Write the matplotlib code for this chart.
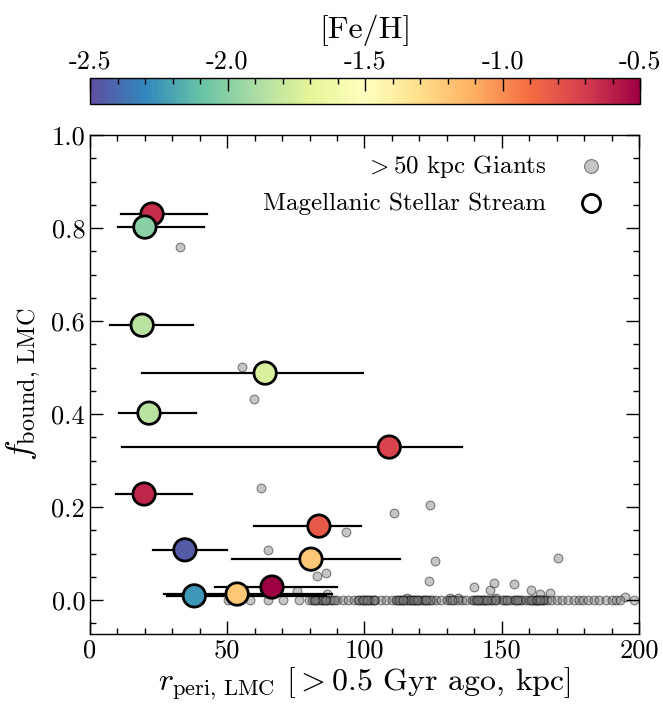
import matplotlib
matplotlib.use("Agg")
import matplotlib.pyplot as plt
import numpy as np
from matplotlib.ticker import MultipleLocator
from matplotlib.colors import Normalize

plt.rcParams['font.family'] = 'serif'
plt.rcParams['font.serif'] = ['cmr10']
plt.rcParams['mathtext.fontset'] = 'cm'
plt.rcParams['axes.unicode_minus'] = False
plt.rcParams['axes.formatter.use_mathtext'] = True

# Magellanic Stellar Stream members
mss_r = [22.6, 20.0, 19.0, 63.8, 21.5, 109.0, 19.7, 83.4, 34.6, 80.5, 66.3, 53.6, 38.0]
mss_f = [0.830, 0.802, 0.591, 0.488, 0.402, 0.329, 0.228, 0.159, 0.108, 0.088, 0.028, 0.013, 0.009]
mss_lo = [11.3, 10.2, 7.3, 19.0, 10.6, 11.7, 9.5, 59.7, 23.0, 51.7, 45.5, 27.0, 28.0]
mss_hi = [42.6, 41.5, 37.5, 99.5, 38.6, 135.5, 37.2, 98.7, 50.0, 113.0, 90.0, 88.0, 86.0]
mss_feh = [-0.65, -2.0, -1.85, -1.75, -1.85, -0.72, -0.62, -0.82, -2.45, -1.2, -0.5, -1.2, -2.25]

# >50 kpc giants, off-zero
g_r = [32.8, 55.4, 59.9, 62.2, 110.9, 123.7, 93.1, 65.0, 125.8, 170.5, 82.8, 85.9,
       123.5, 139.9, 145.7, 147.0, 154.3, 160.7, 164.0, 167.6, 75.5, 86.2, 195.0,
       115.5, 131.0, 134.0, 148.0]
g_f = [0.760, 0.502, 0.432, 0.240, 0.188, 0.204, 0.146, 0.108, 0.085, 0.090, 0.052, 0.059,
       0.041, 0.028, 0.021, 0.036, 0.034, 0.021, 0.013, 0.016, 0.020, 0.013, 0.007,
       0.005, 0.005, 0.004, 0.005]
# >50 kpc giants at f_bound = 0
g0_r = [50.4, 58.3, 65.0, 70.2, 76.0, 79.7, 81.0, 82.5, 84.0, 85.0, 86.5, 88.0, 90.0,
        92.0, 94.0, 96.0, 97.5, 99.0, 100.5, 102.0, 103.0, 104.0, 106.0, 108.0, 110.0,
        111.5, 113.0, 114.5, 116.0, 117.0, 118.0, 119.5, 121.0, 122.0, 123.0, 124.5,
        126.0, 128.0, 130.0, 135.5, 137.0, 139.0, 140.0, 141.0, 142.0, 143.5, 145.0,
        146.5, 148.0, 150.0, 151.5, 154.5, 156.0, 157.5, 161.0, 162.0, 163.0, 164.5,
        165.5, 166.5, 168.0, 170.0, 172.0, 174.0, 176.5, 178.0, 179.5, 181.5, 183.5,
        185.5, 188.0, 190.0, 191.5, 193.0, 198.0]
# overlapping giants in the densest clumps at f_bound = 0
g0_dup_r = [81.5, 83.0, 84.5, 86.0, 87.5, 98.0, 100.0, 101.5, 103.5, 112.0, 113.5,
            115.0, 116.5, 118.5, 120.0, 121.5, 124.0, 131.0, 132.5, 134.0, 140.5,
            142.5, 144.0, 146.0, 147.5, 151.0, 153.0, 155.0, 156.5, 159.0, 160.0,
            161.5, 163.5, 165.0, 89.0, 117.5, 143.0, 162.5, 82.0, 85.5, 99.5, 101.0,
            112.5, 114.0, 119.0, 122.5, 132.0, 141.5, 144.5, 152.0, 155.5, 160.5,
            163.0, 164.0]

cmap = plt.get_cmap('Spectral_r')
norm = Normalize(vmin=-2.5, vmax=-0.5)

fig = plt.figure(figsize=(6.63, 7.06), dpi=100)
ax = fig.add_axes([90/663, 1 - 634/706, 549/663, 499/706])
cax = fig.add_axes([90/663, 1 - 104/706, 550/663, 26/706])

gx = g_r + g0_r + g0_dup_r
gy = g_f + [0.0] * (len(g0_r) + len(g0_dup_r))
ax.scatter(gx, gy, s=40, facecolor='grey', edgecolor='k', linewidth=0.8, alpha=0.45,
           zorder=1)

for r, f, lo, hi in zip(mss_r, mss_f, mss_lo, mss_hi):
    ax.plot([lo, hi], [f, f], color='k', lw=1.6, zorder=2)

sc = ax.scatter(mss_r, mss_f, c=mss_feh, cmap=cmap, norm=norm, s=260,
                edgecolor='k', linewidth=2.0, zorder=3)

ax.set_xlim(0, 200)
ax.set_ylim(-0.073, 1.0)
ax.xaxis.set_minor_locator(MultipleLocator(10))
ax.yaxis.set_minor_locator(MultipleLocator(0.05))
ax.set_xticks([0, 50, 100, 150, 200])
ax.set_xticklabels(['0', '50', '100', '150', '200'])
ax.set_yticks([0.0, 0.2, 0.4, 0.6, 0.8, 1.0])
ax.set_yticklabels(['0.0', '0.2', '0.4', '0.6', '0.8', '1.0'])
ax.tick_params(which='both', direction='in', top=True, right=True, labelsize=19)
ax.tick_params(which='major', length=9.5, width=1.0)
ax.tick_params(which='minor', length=4.5, width=1.0)
for s in ax.spines.values():
    s.set_linewidth(1.0)

ax.set_xlabel(r'$r_{\rm peri,\,LMC}$ [$>0.5$ Gyr ago, kpc]', fontsize=23, labelpad=2)
ax.set_ylabel(r'$f_{\rm bound,\,LMC}$', fontsize=25, labelpad=6)

h1 = ax.scatter([], [], s=100, facecolor='grey', edgecolor='k', linewidth=0.8, alpha=0.45)
h2 = ax.scatter([], [], s=170, facecolor='white', edgecolor='k', linewidth=2.0)
ax.legend([h1, h2], [r'$>50$ kpc Giants', 'Magellanic Stellar Stream'],
          loc='upper right', frameon=False, markerfirst=False, fontsize=18,
          labelspacing=0.5, bbox_to_anchor=(1.0, 1.01))

cb = fig.colorbar(sc, cax=cax, orientation='horizontal')
cax.xaxis.set_ticks_position('top')
cax.xaxis.set_label_position('top')
cb.set_ticks([-2.5, -2.0, -1.5, -1.0, -0.5])
cb.set_ticklabels(['-2.5', '-2.0', '-1.5', '-1.0', '-0.5'])
cax.xaxis.set_minor_locator(MultipleLocator(0.1))
cax.tick_params(which='both', direction='in', labelsize=19, top=True, bottom=False)
cax.tick_params(which='major', length=9.5, width=1.0)
cax.tick_params(which='minor', length=4.5, width=1.0)
cb.outline.set_linewidth(1.0)
cb.set_label('[Fe/H]', fontsize=23, labelpad=8)

fig.savefig('out.png', dpi=100)
